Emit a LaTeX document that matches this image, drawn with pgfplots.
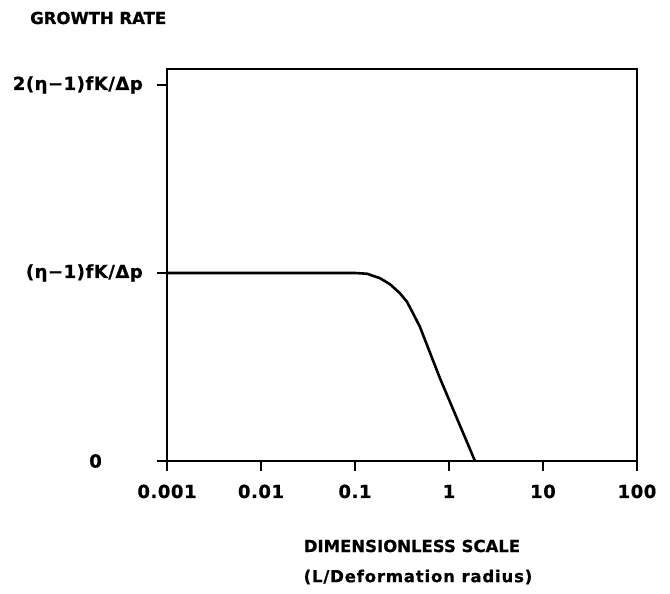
\documentclass[border=0pt]{standalone}
\usepackage{fontspec}
\setmainfont{DejaVu Sans}[BoldFont={DejaVu Sans Bold},BoldFeatures={FakeBold=0.8}]
\usepackage{pgfplots}
\pgfplotsset{compat=1.18}
\newcommand{\tickfont}{\fontsize{18}{20}\selectfont\bfseries\addfontfeature{LetterSpace=3}}
\newcommand{\labfont}{\fontsize{16.5}{18}\selectfont\bfseries}
\begin{document}
\begin{tikzpicture}[x=1pt,y=1pt]
\path[use as bounding box] (-167,-133) rectangle (503,461);
\begin{axis}[
  at={(0,0)}, anchor=south west,
  scale only axis, width=470pt, height=392pt,
  xmode=log, xmin=0.001, xmax=100,
  ymin=0, ymax=2.085,
  axis line style={line width=2pt},
  xtick={0.001,0.01,0.1,1,10,100},
  xticklabels={0.001,0.01,0.1,1,10,100},
  ytick={0,1,2},
  yticklabels={0\hspace*{41pt},{(η−1)fK/Δp},{2(η−1)fK/Δp}},
  xminorticks=false, yminorticks=false,
  xtick pos=bottom, ytick pos=left,
  tick align=outside,
  major tick length=10pt,
  tick style={line width=1.6pt, black},
  xticklabel style={font=\tickfont, anchor=base, inner sep=0pt, yshift=-27pt},
  yticklabel style={font=\tickfont, anchor=east, inner sep=0pt, xshift=-14pt},
  clip=false,
]
\addplot[line width=2.6pt, black] coordinates {
(0.001,1) (0.1,1) (0.134,0.996) (0.185,0.972) (0.236,0.94) (0.301,0.892)
(0.357,0.847) (0.414,0.786) (0.491,0.713) (0.80,0.441) (1.89,0)
};
\end{axis}
\node[anchor=west, inner sep=0pt, font=\labfont] at (-137,443) {GROWTH RATE};
\node[inner sep=0pt, font=\labfont] at (245,-85) {DIMENSIONLESS SCALE};
\node[inner sep=0pt, font=\labfont\addfontfeature{LetterSpace=5}] at (251,-116) {(L/Deformation radius)};
\end{tikzpicture}
\end{document}
